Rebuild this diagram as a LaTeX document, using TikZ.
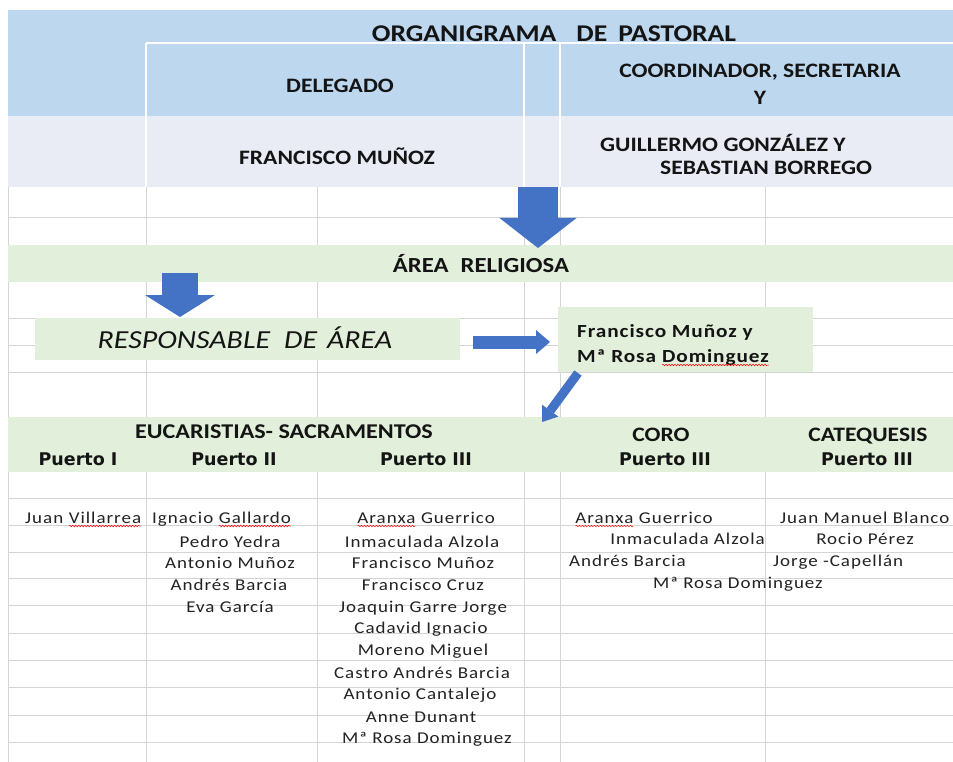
\documentclass[tikz,border=0pt]{standalone}
\usepackage{fontspec}
\usetikzlibrary{arrows.meta,decorations.pathmorphing}
\setmainfont{Carlito}
\newfontfamily\hdfont[FakeStretch=1.15]{Carlito}
\newfontfamily\nmfont[FakeStretch=1.15,LetterSpace=6]{Carlito}
\newfontfamily\nbfont[FakeStretch=1.15,LetterSpace=5]{Carlito}
\newfontfamily\ptfont{DejaVu Sans}
\definecolor{hdblue}{HTML}{BDD7EE}
\definecolor{hdgray}{HTML}{E9EBF5}
\definecolor{bandgreen}{HTML}{E2EFDA}
\definecolor{arrowblue}{HTML}{4472C4}
\definecolor{gridgray}{HTML}{D4D4D4}
\definecolor{txt}{HTML}{141414}
\definecolor{nametxt}{HTML}{222222}
\newcommand\spellw[1]{\tikz[baseline=(sw.base)]{\node[inner sep=0pt, outer sep=0pt, anchor=center] (sw) {#1};
  \draw[red, line width=0.5pt, decorate, decoration={snake, amplitude=0.7pt, segment length=3pt}] ([yshift=-3pt]sw.base west) -- ([yshift=-3pt]sw.base east);}}
\begin{document}
\begin{tikzpicture}[x=1pt,y=-1pt,
  hdtext/.style={font=\hdfont\bfseries\fontsize{20.5}{24}\selectfont, text=txt, inner sep=0pt},
  nametext/.style={font=\nmfont\fontsize{16.5}{20}\selectfont, text=nametxt, inner sep=0pt},
  nbtext/.style={font=\nbfont\bfseries\fontsize{18.5}{22}\selectfont, text=txt, inner sep=0pt},
  porttext/.style={font=\ptfont\bfseries\fontsize{17.5}{20}\selectfont, text=txt, inner sep=0pt},
  gridline/.style={draw=gridgray, line width=0.8pt},
  whiteline/.style={draw=white, line width=2pt},
  greenbox/.style={fill=bandgreen, draw=none, inner sep=0pt, outer sep=0pt, anchor=north west},
  blockarrow/.style={draw=arrowblue, line cap=butt}
]
\useasboundingbox (0,0) rectangle (953,762);
\fill[white] (0,0) rectangle (953,762);

% spreadsheet grid
\foreach \x in {8,146,317,524,560,765} \draw[gridline] (\x,187) -- (\x,762);
\foreach \y in {217,318,345,372,498,525,552,578,605,633,660,687,715,742} \draw[gridline] (8,\y) -- (953,\y);

% header
\fill[hdblue] (8,10) rectangle (953,116);
\fill[hdgray] (8,116) rectangle (953,187);
\draw[whiteline] (146,43) -- (953,43);
\foreach \x in {146,524,560} \draw[whiteline] (\x,43) -- (\x,187);

\node[hdtext, font=\hdfont\bfseries\fontsize{24}{28}\selectfont, anchor=base] (title) at (554,42) {ORGANIGRAMA\hspace{20pt}DE\hspace{11pt}PASTORAL};
\node[hdtext, anchor=base] (delegado) at (340,93) {DELEGADO};
\node[hdtext, anchor=base] (coord) at (760,78) {COORDINADOR, SECRETARIA};
\node[hdtext, anchor=base] (coordy) at (760,105) {Y};
\node[hdtext, anchor=base] (fmunoz) at (337,165) {FRANCISCO MUÑOZ};
\node[hdtext, anchor=base west] (guille) at (600,152) {GUILLERMO GONZÁLEZ Y};
\node[hdtext, anchor=base west] (sebas) at (660,175) {SEBASTIAN BORREGO};

% area religiosa band
\node[greenbox, minimum width=945pt, minimum height=37pt] (area) at (8,245) {};
\node[hdtext, font=\hdfont\bfseries\fontsize{21.5}{25}\selectfont, anchor=base] (areatxt) at (481,272) {ÁREA\hspace{12pt}RELIGIOSA};

% responsable box
\node[greenbox, minimum width=425pt, minimum height=42pt] (resp) at (35,318) {};
\node[font=\hdfont\itshape\fontsize{26}{30}\selectfont, text=txt, inner sep=0pt, anchor=base] (resptxt) at (245,348) {RESPONSABLE\hspace{14pt}DE\hspace{10pt}ÁREA};

% names box
\node[greenbox, minimum width=255pt, minimum height=65pt] (names) at (558,307) {};
\node[nbtext, anchor=base west] (nm1) at (577,337) {Francisco Muñoz y};
\node[nbtext, anchor=base west] (nm2) at (577,362) {Mª Rosa \spellw{Dominguez}};

% bottom band
\node[greenbox, minimum width=945pt, minimum height=55pt] (sacband) at (8,417) {};
\node[hdtext, font=\hdfont\bfseries\fontsize{21}{25}\selectfont, anchor=base] (euca) at (284,438) {EUCARISTIAS- SACRAMENTOS};
\node[hdtext, anchor=base] (coro) at (661,441) {CORO};
\node[hdtext, anchor=base] (cate) at (868,441) {CATEQUESIS};
\node[porttext, anchor=base] (p1) at (78,465) {Puerto I};
\node[porttext, anchor=base] (p2) at (234,465) {Puerto II};
\node[porttext, anchor=base] (p3) at (426,465) {Puerto III};
\node[porttext, anchor=base] (p4) at (665,465) {Puerto III};
\node[porttext, anchor=base] (p5) at (867,465) {Puerto III};

% block arrows
\coordinate (a1s) at (538,187); \coordinate (a1e) at (538,248);
\coordinate (a2s) at (180,273); \coordinate (a2e) at (180,317);
\coordinate (a3s) at (473,342); \coordinate (a3e) at (550,342);
\coordinate (a4s) at (578,373); \coordinate (a4e) at (542,422);
\draw[blockarrow, line width=40pt, -{Triangle[width=77pt,length=30pt,line width=0pt]}] (a1s) -- (a1e);
\draw[blockarrow, line width=36pt, -{Triangle[width=70pt,length=22pt,line width=0pt]}] (a2s) -- (a2e);
\draw[blockarrow, line width=13pt, -{Triangle[width=24pt,length=14pt,line width=0pt]}] (a3s) -- (a3e);
\draw[blockarrow, line width=9pt, -{Triangle[width=20pt,length=14pt,line width=0pt]}] (a4s) -- (a4e);

% names: Puerto I
\node[nametext, anchor=base west] (n11) at (25,523) {Juan \spellw{Villarrea}};
% Puerto II
\node[nametext, anchor=base west] (n21) at (152,523) {Ignacio \spellw{Gallardo}};
\node[nametext, anchor=base] (n22) at (230,547) {Pedro Yedra};
\node[nametext, anchor=base] (n23) at (230,568) {Antonio Muñoz};
\node[nametext, anchor=base] (n24) at (229,590) {Andrés Barcia};
\node[nametext, anchor=base] (n25) at (230,612) {Eva García};
% Puerto III
\node[nametext, anchor=base] (n31) at (426,523) {\spellw{Aranxa} Guerrico};
\node[nametext, anchor=base] (n32) at (422,547) {Inmaculada Alzola};
\node[nametext, anchor=base] (n33) at (423,568) {Francisco Muñoz};
\node[nametext, anchor=base] (n34) at (423,590) {Francisco Cruz};
\node[nametext, anchor=base] (n35) at (423,612) {Joaquin Garre Jorge};
\node[nametext, anchor=base] (n36) at (421,633) {Cadavid Ignacio};
\node[nametext, anchor=base] (n37) at (423,655) {Moreno Miguel};
\node[nametext, anchor=base] (n38) at (422,678) {Castro Andrés Barcia};
\node[nametext, anchor=base] (n39) at (420,699) {Antonio Cantalejo};
\node[nametext, anchor=base] (n310) at (421,722) {Anne Dunant};
\node[nametext, anchor=base] (n311) at (427,743) {Mª Rosa Dominguez};
% Coro
\node[nametext, anchor=base west] (c1) at (575,523) {\spellw{Aranxa} Guerrico};
\node[nametext, anchor=base east] (c2) at (765,544) {Inmaculada Alzola};
\node[nametext, anchor=base west] (c3) at (569,566) {Andrés Barcia};
\node[nametext, anchor=base west] (c4) at (653,588) {Mª Rosa Dominguez};
% Catequesis
\node[nametext, anchor=base west] (k1) at (780,523) {Juan Manuel Blanco};
\node[nametext, anchor=base] (k2) at (865,544) {Rocio Pérez};
\node[nametext, anchor=base west] (k3) at (773,566) {Jorge -Capellán};
\end{tikzpicture}
\end{document}
